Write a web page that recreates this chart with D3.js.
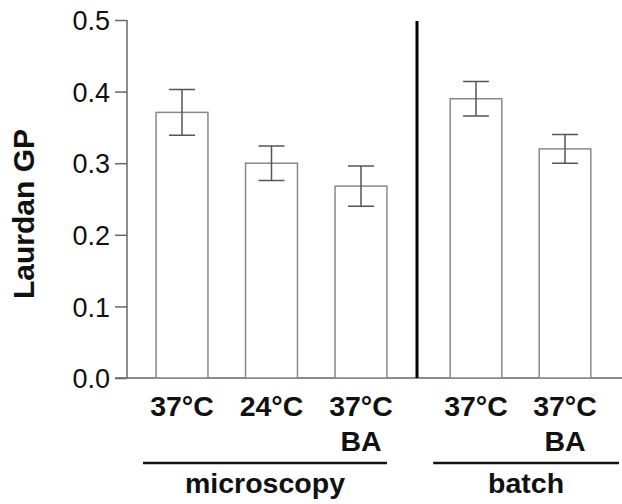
<!DOCTYPE html>
<html>
<head>
<meta charset="utf-8">
<script src="https://cdn.jsdelivr.net/npm/d3@7"></script>
<style>
body { margin: 0; background: #fff; }
text { font-family: "Liberation Sans", Arial, sans-serif; }
</style>
</head>
<body>
<div id="chart"></div>
<script>
// data
var microLabels = ["37°C", "24°C", "37°C|BA"],
microValues = [0.371, 0.300, 0.268],
microErrors = [0.032, 0.024, 0.028]

var batchLabels = ["37°C", "37°C|BA"],
batchValues = [0.390, 0.320],
batchErrors = [0.024, 0.020]

var groupNames = ["microscopy", "batch"]
var yTicks = [0, 0.1, 0.2, 0.3, 0.4, 0.5]

var width = 622,
height = 504

var svg = d3.select("#chart").append("svg")
 .attr("width", width)
 .attr("height", height)

var y = d3.scaleLinear()
.domain([0, 0.5])
.range([378, 20])

var xMicro = d3.scaleBand()
.domain(d3.range(microLabels.length))
.range([137.25, 405.75])
.paddingInner(0.42)
.paddingOuter(0.21)

var xBatch = d3.scaleBand()
.domain(d3.range(batchLabels.length))
.range([431.5, 609.5])
.paddingInner(0.42)
.paddingOuter(0.21)

// y axis
var yAxis = d3.axisLeft(y)
.tickValues(yTicks)
.tickFormat(d3.format(".1f"))
.tickSize(12)
.tickPadding(5)

var yg = svg.append("g")
.attr("transform", "translate(127,0)")
.call(yAxis)

yg.select(".domain").remove()
yg.append("line")
.attr("x1", 0).attr("x2", 0)
.attr("y1", y(0.5)).attr("y2", y(0))
.attr("stroke", "#666").attr("stroke-width", 1.5)
yg.selectAll(".tick line").attr("stroke", "#666").attr("stroke-width", 1.5)
yg.selectAll(".tick text")
.attr("fill", "#111")
.style("font-size", "27px")
.attr("dy", "0.36em")

// baseline
svg.append("line")
.attr("x1", 115).attr("x2", width)
.attr("y1", y(0)).attr("y2", y(0))
.attr("stroke", "#666").attr("stroke-width", 1.5)

svg.append("text")
.attr("transform", "translate(34," + 214 + ") rotate(-90)")
.attr("text-anchor", "middle")
.style("font-size", "30px")
.style("font-weight", "bold")
.attr("fill", "#111")
.text("Laurdan GP")

function drawGroup(labels, values, errors, x, name, lineFrom, lineTo) {
  var g = svg.append("g")
  var idx = d3.range(values.length)

  g.selectAll("rect")
  .data(idx)
  .enter()
  .append("rect")
  .attr("x", function(i){ return x(i) })
  .attr("y", function(i){ return y(values[i]) })
  .attr("width", x.bandwidth())
  .attr("height", function(i){ return y(0) - y(values[i]) })
  .attr("fill", "#fff")
  .attr("stroke", "#888")
  .attr("stroke-width", 1.5)

  var cx = function(i){ return x(i) + x.bandwidth() / 2 }
  var cap = x.bandwidth() / 4

  g.selectAll(".err")
  .data(idx)
  .enter()
  .append("path")
  .attr("class", "err")
  .attr("fill", "none")
  .attr("stroke", "#555")
  .attr("stroke-width", 1.5)
  .attr("d", function(i){
    var hi = y(values[i] + errors[i]), lo = y(values[i] - errors[i])
    return "M" + cx(i) + "," + hi + "V" + lo +
      "M" + (cx(i) - cap) + "," + hi + "H" + (cx(i) + cap) +
      "M" + (cx(i) - cap) + "," + lo + "H" + (cx(i) + cap)
  })

  var lab = g.selectAll(".lab")
  .data(idx)
  .enter()
  .append("text")
  .attr("class", "lab")
  .attr("text-anchor", "middle")
  .style("font-size", "28.5px")
  .style("font-weight", "bold")
  .attr("fill", "#111")

  lab.each(function(i){
    var parts = labels[i].split("|")
    d3.select(this).selectAll("tspan")
    .data(parts)
    .enter()
    .append("tspan")
    .attr("x", cx(i))
    .attr("y", function(d, k){ return 416 + k * 35 })
    .text(function(d){ return d })
  })

  g.append("line")
  .attr("x1", lineFrom).attr("x2", lineTo)
  .attr("y1", 463).attr("y2", 463)
  .attr("stroke", "#111").attr("stroke-width", 2.5)

  g.append("text")
  .attr("x", (lineFrom + lineTo) / 2)
  .attr("y", 493)
  .attr("text-anchor", "middle")
  .style("font-size", "28.5px")
  .style("font-weight", "bold")
  .attr("fill", "#111")
  .text(name)
}

drawGroup(microLabels, microValues, microErrors, xMicro, groupNames[0],
  xMicro(0) - 13, xMicro(2) + xMicro.bandwidth())
drawGroup(batchLabels, batchValues, batchErrors, xBatch, groupNames[1],
  xBatch(0) - 17, width - 3)

// divider between the two sets
svg.append("line")
.attr("x1", 417).attr("x2", 417)
.attr("y1", 21).attr("y2", y(0))
.attr("stroke", "#000").attr("stroke-width", 3)
</script>
</body>
</html>
